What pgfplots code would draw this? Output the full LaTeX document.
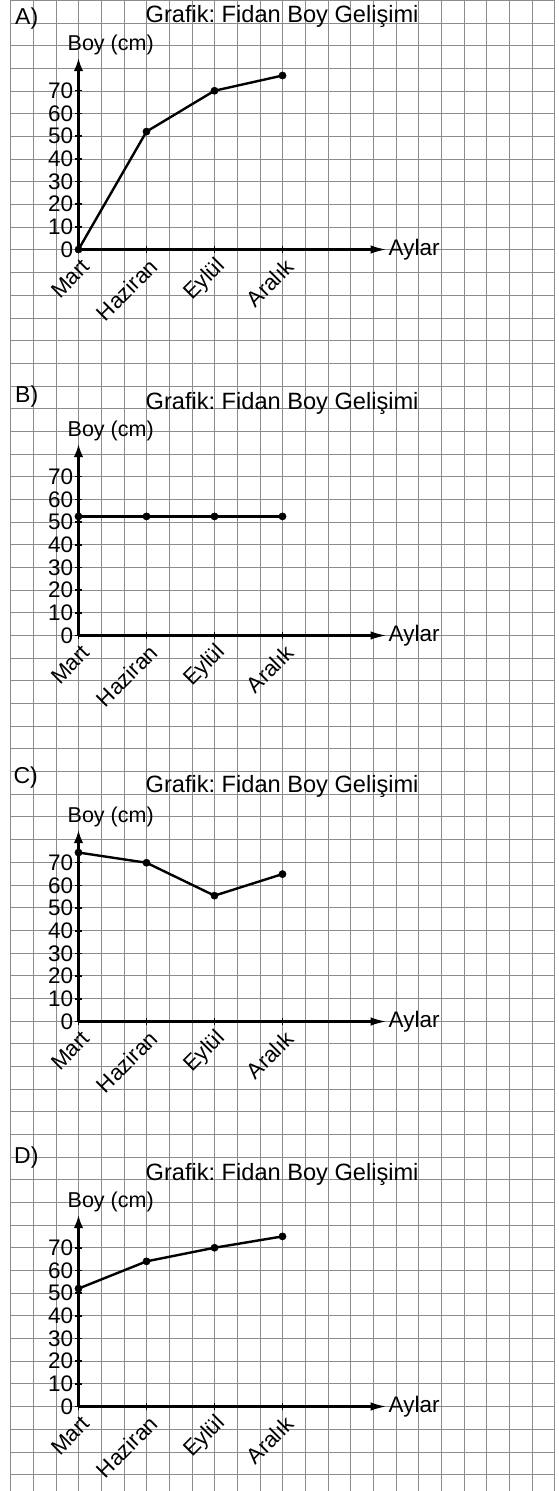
\documentclass[border=0pt]{standalone}
\usepackage{pgfplots}
\pgfplotsset{compat=1.18}
\usetikzlibrary{arrows.meta}
\usepackage{fontspec}
\setmainfont{Liberation Sans}
\frenchspacing

\pgfplotsset{
  panel/.style={
    x=68pt, y=2.268pt,
    xmin=0, xmax=4.53, ymin=0, ymax=84.4,
    enlargelimits=false, clip=false,
    axis x line=bottom, axis y line=left,
    x axis line style={line width=2.2pt, -{Latex[length=16pt,width=8.5pt]}},
    y axis line style={line width=2.2pt, -{Latex[length=13pt,width=9.5pt]}},
    xtick={0,1,2,3}, xticklabels={Mart,Haziran,Eylül,Aralık},
    ytick={0,10,...,70},
    tick align=center,
    major tick length=7.5pt,
    tick style={black, line width=1.5pt},
    /pgf/number format/assume math mode=true,
    xticklabel style={font=\fontsize{22}{22}\selectfont, inner sep=0pt, anchor=east, xshift=7.5pt, yshift=-9.5pt, rotate=45},
    yticklabel style={font=\fontsize{22.5}{22.5}\selectfont, inner sep=0pt, anchor=east, xshift=-1.3pt},
  },
  dat/.style={black, line width=2.4pt, mark=*, mark size=3.6pt, mark options={fill=black, draw=black, line width=0.5pt, solid}},
}

\begin{document}
\begin{tikzpicture}
\path[use as bounding box] (0,0) rectangle (558pt,-1491pt);
% background grid
\begin{axis}[at={(10.5pt,0pt)}, anchor=north west,
  x=1pt, y=1pt, xmin=10.5, xmax=554.5, ymin=-1491, ymax=0,
  enlargelimits=false, clip=false,
  xtick={10.5,33.5,56.5,78.5,101.5,124.5,146.5,169.5,192.5,214.5,237.5,260.5,282.5,305.5,328.5,350.5,373.5,396.5,418.5,441.5,464.5,486.5,509.5,532.5,554.5},
  ytick={-0.5,-23.5,-45.5,-68.5,-91.5,-113.5,-136.5,-159.5,-181.5,-204.5,-227.5,-249.5,-272.5,-295.5,-318.5,-340.5,-363.5,-386.5,-408.5,-431.5,-454.5,-476.5,-499.5,-522.5,-544.5,-567.5,-590.5,-612.5,-635.5,-658.5,-680.5,-703.5,-726.5,-748.5,-771.5,-794.5,-816.5,-839.5,-862.5,-885.5,-907.5,-930.5,-953.5,-975.5,-998.5,-1021.5,-1043.5,-1066.5,-1089.5,-1111.5,-1134.5,-1157.5,-1179.5,-1202.5,-1225.5,-1247.5,-1270.5,-1293.5,-1315.5,-1338.5,-1361.5,-1383.5,-1406.5,-1429.5,-1452.5,-1474.5},
  grid=major, major grid style={black!45, line width=1.2pt},
  axis line style={draw=none}, tick style={draw=none},
  xticklabels={}, yticklabels={}]
\end{axis}

% Panel A
\begin{axis}[panel, at={(78.5pt,-249.5pt)}, anchor=south west]
\addplot[dat] coordinates {(0,0) (1,52) (2,70) (3,76.7)};
\end{axis}
% Panel B
\begin{axis}[panel, at={(78.5pt,-635.5pt)}, anchor=south west]
\addplot[dat] coordinates {(0,52.5) (1,52.5) (2,52.5) (3,52.5)};
\end{axis}
% Panel C
\begin{axis}[panel, at={(78.5pt,-1021.5pt)}, anchor=south west]
\addplot[dat] coordinates {(0,74.5) (1,70) (2,55.5) (3,65)};
\end{axis}
% Panel D
\begin{axis}[panel, at={(78.5pt,-1406.5pt)}, anchor=south west]
\addplot[dat] coordinates {(0,52) (1,64) (2,70) (3,75)};
\end{axis}

% texts
\tikzset{lettxt/.style={anchor=base west, inner sep=0pt, font=\fontsize{23}{23}\selectfont},
         titletxt/.style={anchor=base west, inner sep=0pt, font=\fontsize{23.6}{23.6}\selectfont},
         boytxt/.style={anchor=base west, inner sep=0pt, font=\fontsize{21.5}{21.5}\selectfont},
         aylartxt/.style={anchor=base west, inner sep=0pt, font=\fontsize{22.5}{22.5}\selectfont}}
% A
\node[lettxt] at (15pt,{-249.5pt+225.5pt}) {A)};
\node[titletxt] at (145.5pt,{-249.5pt+226.5pt}) {Grafik: Fidan Boy Gelişimi};
\node[boytxt] at (67.5pt,{-249.5pt+199pt}) {Boy (cm)};
\node[aylartxt] at (388.5pt,{-249.5pt-5.5pt}) {Aylar};
% B
\node[lettxt] at (15pt,{-635.5pt+232.7pt}) {B)};
\node[titletxt] at (145.5pt,{-635.5pt+226.5pt}) {Grafik: Fidan Boy Gelişimi};
\node[boytxt] at (67.5pt,{-635.5pt+199pt}) {Boy (cm)};
\node[aylartxt] at (388.5pt,{-635.5pt-5.5pt}) {Aylar};
% C
\node[lettxt] at (13.3pt,{-1021.5pt+238pt}) {C)};
\node[titletxt] at (145.5pt,{-1021.5pt+229pt}) {Grafik: Fidan Boy Gelişimi};
\node[boytxt] at (67.5pt,{-1021.5pt+199pt}) {Boy (cm)};
\node[aylartxt] at (388.5pt,{-1021.5pt-5.5pt}) {Aylar};
% D
\node[lettxt] at (14pt,{-1406.5pt+243.4pt}) {D)};
\node[titletxt] at (145.5pt,{-1406.5pt+226.5pt}) {Grafik: Fidan Boy Gelişimi};
\node[boytxt] at (67.5pt,{-1406.5pt+199pt}) {Boy (cm)};
\node[aylartxt] at (388.5pt,{-1406.5pt-5.5pt}) {Aylar};
\end{tikzpicture}
\end{document}
